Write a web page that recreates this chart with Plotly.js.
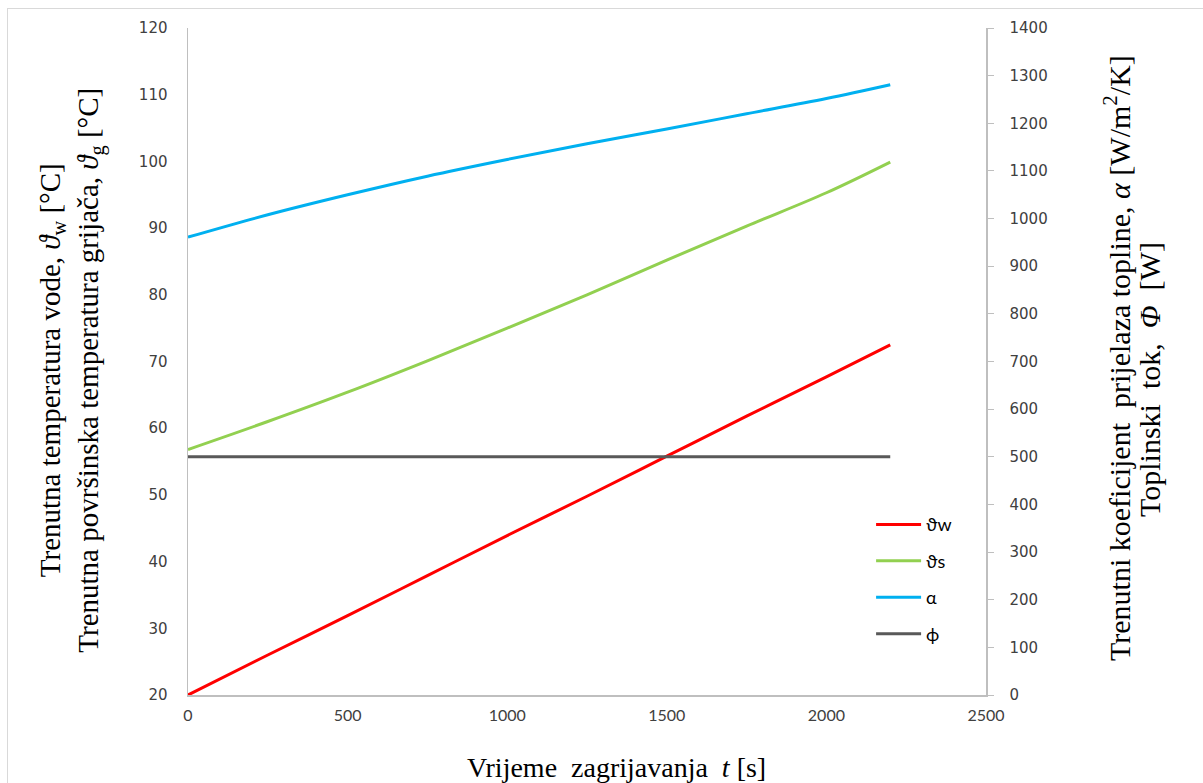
<!DOCTYPE html>
<html>
<head>
<meta charset="utf-8">
<script src="https://cdn.plot.ly/plotly-3.0.1.min.js"></script>
<style>
html,body{margin:0;padding:0;background:#fff;overflow:hidden;}
#wrap{position:relative;width:1203px;height:783px;overflow:hidden;}
#chart{width:1203px;height:783px;}
#frame{position:absolute;left:7px;top:8px;width:1300px;height:900px;border:1px solid #d9d9d9;pointer-events:none;}
</style>
</head>
<body>
<div id="wrap"><div id="chart"></div><div id="frame"></div></div>
<script>
// time [s]
const time = [0, 250, 500, 750, 1000, 1250, 1500, 1750, 2000, 2200];
// water temperature [°C]
const thetaW = [20.0, 26.0, 31.9, 37.9, 43.9, 49.8, 55.8, 61.8, 67.7, 72.5];
// heater surface temperature [°C]
const thetaS = [56.8, 61.0, 65.4, 70.1, 75.0, 80.0, 85.2, 90.3, 95.3, 99.9];
// heat transfer coefficient [W/m2/K]
const alpha = [961, 1008, 1050, 1089, 1124, 1157, 1188, 1220, 1252, 1281];
// heat flux [W]
const phi = [500, 500, 500, 500, 500, 500, 500, 500, 500, 500];

const names = ['ϑw', 'ϑs', 'α', 'ϕ'];
const colors = ['#ff0000', '#92d050', '#00b0f0', '#595959'];

const series = [thetaW, thetaS, alpha, phi];
const axes = ['y', 'y', 'y2', 'y2'];

const traces = series.map((vals, i) => ({
  x: time, y: vals, type: 'scatter', mode: 'lines', name: names[i],
  yaxis: axes[i], legendgroup: 'g' + i,
  line: {color: colors[i], width: 3, shape: 'spline', smoothing: 1}
}));

const serif = 'Liberation Serif, Times New Roman, serif';
const tickFontY = {family: 'DejaVu Sans, Verdana, sans-serif', size: 15, color: '#404040'};

const layout = {
  width: 1203, height: 783,
  margin: {l: 188, r: 217, t: 28, b: 88},
  paper_bgcolor: '#ffffff', plot_bgcolor: '#ffffff',
  showlegend: true,
  legend: {
    x: 0.856, y: 0.283, xanchor: 'left', yanchor: 'top',
    font: {family: 'Lato, Open Sans, sans-serif', size: 18, color: '#000'},
    bgcolor: 'rgba(0,0,0,0)', traceorder: 'grouped', tracegroupgap: 10,
    itemwidth: 45
  },
  xaxis: {
    range: [0, 2500], dtick: 500, tick0: 0,
    showgrid: false, zeroline: false,
    showline: true, linecolor: '#bfbfbf', linewidth: 1.5,
    ticks: '', ticklabelstandoff: 5,
    tickfont: {family: 'Lato, sans-serif', size: 16, color: '#404040'},
    fixedrange: true
  },
  yaxis: {
    range: [20, 120], dtick: 10, tick0: 20,
    showgrid: false, zeroline: false,
    showline: true, linecolor: '#bfbfbf', linewidth: 1.5,
    ticks: '', ticklabelstandoff: 16,
    tickfont: tickFontY
  },
  yaxis2: {
    range: [0, 1400], dtick: 100, tick0: 0,
    overlaying: 'y', side: 'right',
    showgrid: false, zeroline: false,
    showline: true, linecolor: '#bfbfbf', linewidth: 1.5,
    ticks: 'outside', ticklen: 6, tickcolor: '#bfbfbf', tickwidth: 1,
    ticklabelstandoff: 13,
    tickfont: tickFontY
  },
  annotations: [
    {
      text: 'Trenutna temperatura vode, <i>ϑ</i><sub>w</sub> [°C]<br>Trenutna površinska temperatura grijača, <i>ϑ</i><sub>g</sub> [°C]',
      xref: 'paper', yref: 'paper', x: -0.146, y: 0.487,
      xanchor: 'center', yanchor: 'middle', textangle: -90, showarrow: false,
      font: {family: serif, size: 29, color: '#000'}
    },
    {
      text: 'Trenutni koeficijent  prijelaza topline, <i>α</i> [W/m<sup>2</sup>/K]',
      xref: 'paper', yref: 'paper', x: (1117 - 188) / 798, y: 1 - (358 - 28) / 667,
      xanchor: 'center', yanchor: 'middle', textangle: -90, showarrow: false,
      font: {family: serif, size: 30, color: '#000'}
    },
    {
      text: 'Toplinski  tok,  <i>Φ</i>  [W]',
      xref: 'paper', yref: 'paper', x: (1149 - 188) / 798, y: 1 - (380 - 28) / 667,
      xanchor: 'center', yanchor: 'middle', textangle: -90, showarrow: false,
      font: {family: serif, size: 30, color: '#000'}
    },
    {
      text: 'Vrijeme  zagrijavanja  <i>t</i> [s]',
      xref: 'paper', yref: 'paper', x: (616 - 188) / 798, y: (695 - 767) / 667,
      xanchor: 'center', yanchor: 'middle', showarrow: false,
      font: {family: serif, size: 28, color: '#000'}
    }
  ]
};

Plotly.newPlot('chart', traces, layout, {displayModeBar: false, staticPlot: true});
</script>
</body>
</html>
